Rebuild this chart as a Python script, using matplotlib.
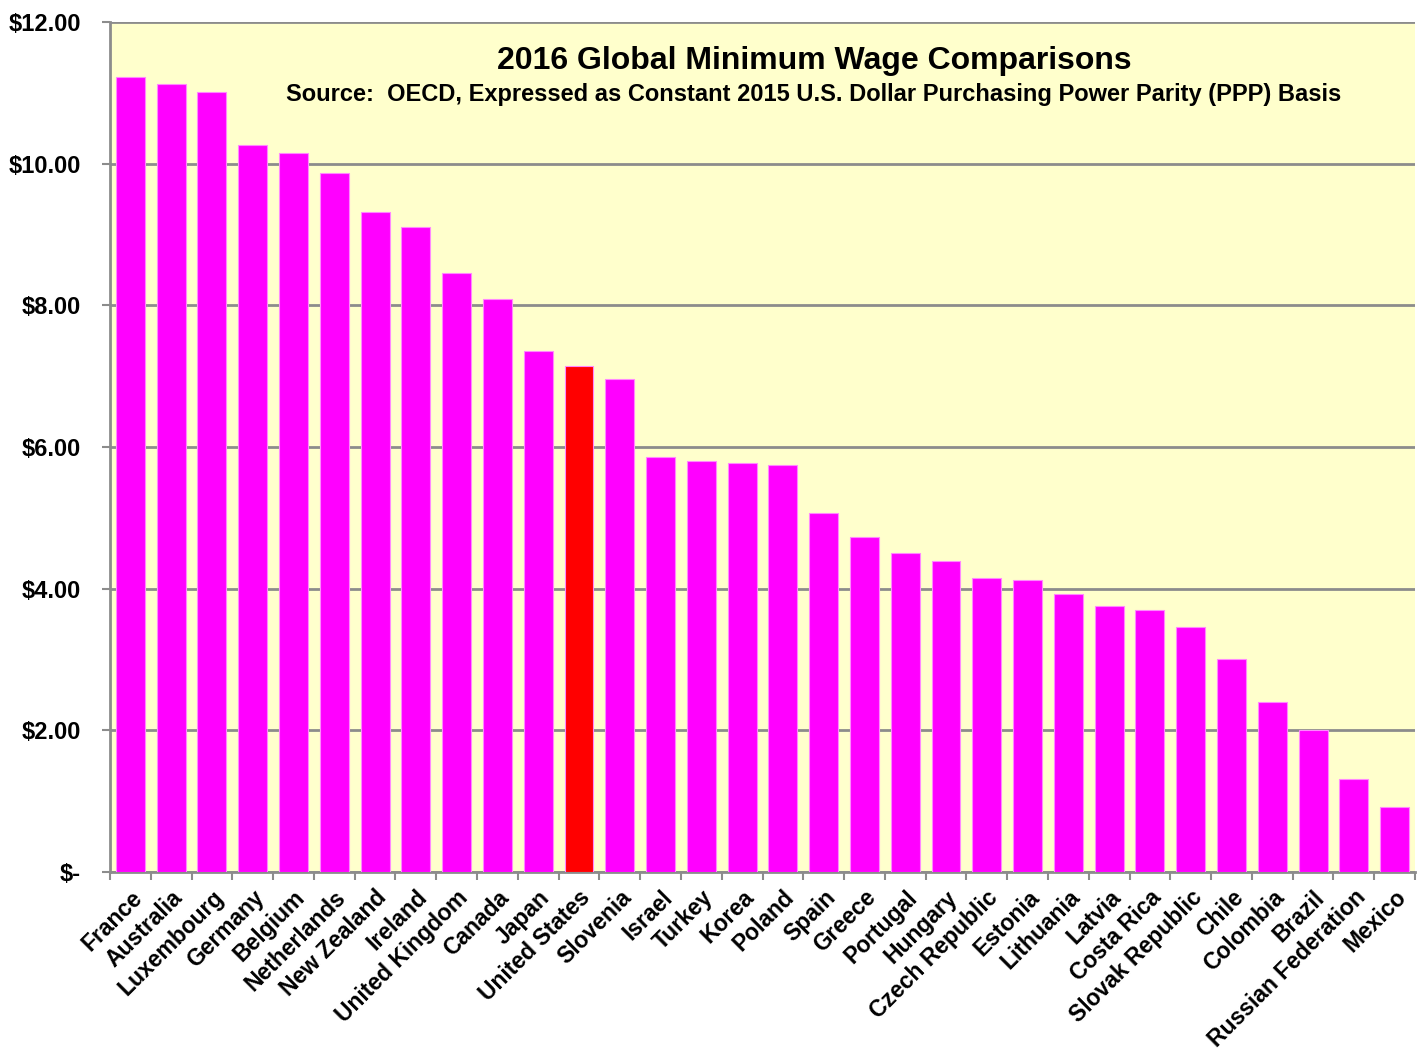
import matplotlib

matplotlib.use("Agg")

import matplotlib.pyplot as plt
from matplotlib.ticker import FuncFormatter, FixedLocator

countries = [
    "France", "Australia", "Luxembourg", "Germany", "Belgium", "Netherlands",
    "New Zealand", "Ireland", "United Kingdom", "Canada", "Japan",
    "United States", "Slovenia", "Israel", "Turkey", "Korea", "Poland",
    "Spain", "Greece", "Portugal", "Hungary", "Czech Republic", "Estonia",
    "Lithuania", "Latvia", "Costa Rica", "Slovak Republic", "Chile",
    "Colombia", "Brazil", "Russian Federation", "Mexico",
]
wages = [
    11.22, 11.12, 11.01, 10.26, 10.15, 9.87, 9.32, 9.11, 8.46, 8.09, 7.36,
    7.15, 6.96, 5.86, 5.80, 5.77, 5.75, 5.07, 4.73, 4.50, 4.39, 4.15, 4.12,
    3.92, 3.76, 3.70, 3.46, 3.01, 2.40, 2.00, 1.31, 0.92,
]
y_ticks = [0, 2, 4, 6, 8, 10, 12]

BAR_COLOR = "#FF00FF"
HIGHLIGHT = "#FF0000"
BG_COLOR = "#FFFFCC"
GRID_COLOR = "#8C8C8C"

plt.rcParams["font.family"] = ["Liberation Sans", "DejaVu Sans"]
plt.rcParams["font.weight"] = "bold"

fig = plt.figure(figsize=(14.23, 10.57), dpi=100)
ax = fig.add_axes([110 / 1423, 1 - 872 / 1057, 1305 / 1423, 850 / 1057])
ax.set_facecolor(BG_COLOR)

x = list(range(len(countries)))
colors = [HIGHLIGHT if c == "United States" else BAR_COLOR for c in countries]
ax.bar(x, wages, width=0.71, color=colors, edgecolor="#FF88FF", linewidth=0.8, zorder=3)

ax.set_xlim(-0.5, len(countries) - 0.5)
ax.set_ylim(0, 12)
ax.set_yticks(y_ticks)
ax.yaxis.set_major_formatter(FuncFormatter(lambda v, _: "$-" if v == 0 else f"${v:.2f}"))
ax.yaxis.grid(True, color=GRID_COLOR, linewidth=2, zorder=1)
ax.tick_params(axis="y", length=6, width=1.5, color=GRID_COLOR, labelsize=17, pad=15)

ax.set_xticks(x)
ax.set_xticklabels(countries, rotation=45, ha="right", rotation_mode="anchor", fontsize=16.5)
ax.tick_params(axis="x", which="major", length=0, pad=10)
ax.xaxis.set_minor_locator(FixedLocator([i - 0.5 for i in range(len(countries) + 1)]))
ax.tick_params(axis="x", which="minor", length=6, width=1.5, color=GRID_COLOR)

for side in ("top", "right"):
    ax.spines[side].set_visible(False)
for side in ("left", "bottom"):
    ax.spines[side].set_color(GRID_COLOR)
    ax.spines[side].set_linewidth(2)

fig.text(814 / 1423, 1 - 61 / 1057, "2016 Global Minimum Wage Comparisons",
         ha="center", va="center", fontsize=23, fontweight="bold")
fig.text(814 / 1423, 1 - 94 / 1057,
         "Source:  OECD, Expressed as Constant 2015 U.S. Dollar Purchasing Power Parity (PPP) Basis",
         ha="center", va="center", fontsize=17, fontweight="bold")

fig.savefig("out.png", dpi=100)
